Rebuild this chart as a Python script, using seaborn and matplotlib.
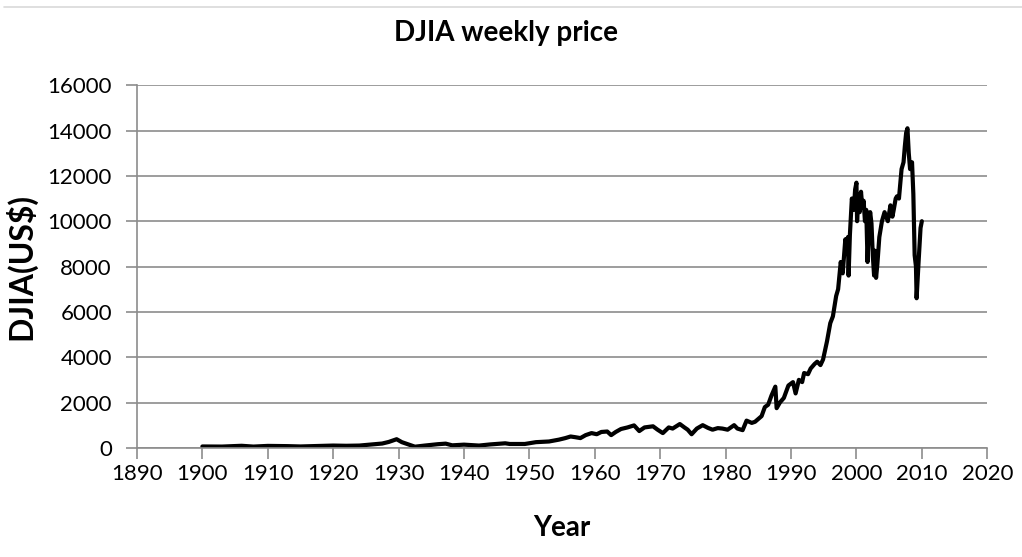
import matplotlib.pyplot as plt
from matplotlib.lines import Line2D
import pandas as pd
import seaborn as sns

# values (year, index level)
years = [1900.0, 1903.0, 1906.0, 1907.8, 1910.0, 1913.0, 1915.0, 1918.0, 1920.0,
         1922.0, 1924.0, 1926.0, 1927.5, 1928.5, 1929.7, 1930.5, 1931.5, 1932.5,
         1934.0, 1936.0, 1937.2, 1938.2, 1940.0, 1942.3, 1944.0, 1946.3, 1947.0,
         1949.3, 1951.0, 1953.0, 1954.5, 1955.5, 1956.3, 1957.0, 1957.8, 1958.6,
         1959.5, 1960.3, 1961.0, 1961.9, 1962.5, 1963.2, 1964.0, 1965.0, 1966.0,
         1966.8, 1967.6, 1968.9, 1969.6, 1970.4, 1971.3, 1971.9, 1973.0, 1973.7,
         1974.2, 1974.8, 1975.6, 1976.5, 1977.3, 1978.0, 1978.8, 1979.5, 1980.3,
         1981.3, 1981.8, 1982.6, 1983.2, 1984.0, 1984.5, 1985.5, 1986.0, 1986.5,
         1987.0, 1987.6, 1987.8, 1988.3, 1988.9, 1989.6, 1990.3, 1990.7, 1991.2,
         1991.7, 1992.0, 1992.6, 1993.0, 1993.6, 1994.0, 1994.5, 1994.9, 1995.5,
         1996.0, 1996.4, 1996.9, 1997.2, 1997.4, 1997.6, 1997.9, 1998.3, 1998.6,
         1998.7, 1998.8, 1999.0, 1999.3, 1999.6, 1999.8, 2000.0, 2000.1, 2000.3,
         2000.5, 2000.7, 2000.9, 2001.1, 2001.3, 2001.5, 2001.7, 2001.9, 2002.1,
         2002.3, 2002.5, 2002.7, 2002.8, 2003.0, 2003.2, 2003.5, 2003.9, 2004.3,
         2004.8, 2005.2, 2005.5, 2005.7, 2006.0, 2006.2, 2006.5, 2006.9, 2007.2,
         2007.4, 2007.6, 2007.8, 2008.0, 2008.2, 2008.5, 2008.7, 2008.9, 2009.1,
         2009.2, 2009.5, 2009.8, 2010.0]
prices = [60, 55, 90, 55, 85, 75, 60, 85, 100, 90, 100, 150, 190, 260, 380, 250,
          150, 50, 100, 160, 185, 110, 140, 100, 150, 200, 170, 170, 250, 280,
          360, 430, 500, 470, 430, 560, 650, 600, 700, 720, 560, 700, 830, 900,
          990, 740, 900, 950, 800, 650, 900, 850, 1050, 900, 800, 600, 850, 1000,
          880, 800, 870, 850, 800, 1000, 850, 780, 1200, 1100, 1150, 1400, 1800,
          1900, 2300, 2700, 1750, 2000, 2200, 2750, 2900, 2400, 3000, 2900, 3300,
          3250, 3500, 3700, 3800, 3650, 3900, 4700, 5500, 5800, 6700, 7000, 7600,
          8200, 7700, 9200, 8800, 9300, 7600, 9400, 11000, 10500, 11400, 11700,
          10000, 11200, 10400, 11300, 10600, 10900, 10000, 10500, 8200, 9800,
          10400, 9900, 8500, 7600, 8700, 7500, 8100, 9300, 10000, 10400, 10000,
          10700, 10200, 10500, 11000, 11100, 11000, 12300, 12600, 13300, 13900,
          14100, 13000, 12300, 12600, 11200, 8500, 8000, 6600, 8200, 9700, 10000]

df = pd.DataFrame({"Year": years, "DJIA": prices})

sns.set_style("whitegrid")
plt.rcParams["font.family"] = ["Lato", "DejaVu Sans"]

fig = plt.figure(figsize=(10.22, 5.57), dpi=100)
ax = fig.add_axes([0.134, 0.196, 0.832, 0.651])

sns.lineplot(data=df, x="Year", y="DJIA", estimator=None, sort=False,
             color="black", linewidth=3, ax=ax)

ax.set_xlim(1890, 2020)
ax.set_ylim(0, 16000)
ax.set_xticks(range(1890, 2021, 10))
ax.set_yticks(range(0, 16001, 2000))
ax.grid(axis="x", visible=False)
ax.grid(axis="y", color="#8c8c8c", linewidth=1.2)

for side in ["top", "right"]:
    ax.spines[side].set_visible(False)
for side in ["left", "bottom"]:
    ax.spines[side].set_color("#8c8c8c")
    ax.spines[side].set_linewidth(1.2)

ax.tick_params(axis="both", which="major", labelsize=16, length=8, width=1.2,
               color="#8c8c8c", labelcolor="black", direction="out",
               bottom=True, left=True)
ax.tick_params(axis="y", pad=10)
ax.tick_params(axis="x", pad=4)

fig.text(0.495, 0.94, "DJIA weekly price", fontsize=20, fontweight="bold",
         ha="center", va="center", color="black")
ax.set_xlabel("Year", fontsize=20, fontweight="bold", labelpad=22, color="black")
ax.set_ylabel("DJIA(US$)", fontsize=23, fontweight="bold", labelpad=8,
              color="black")

fig.add_artist(Line2D([0.004, 1.0], [0.987, 0.987], color="#d9d9d9",
                      linewidth=1.2, transform=fig.transFigure))

fig.savefig("out.png", dpi=100)
